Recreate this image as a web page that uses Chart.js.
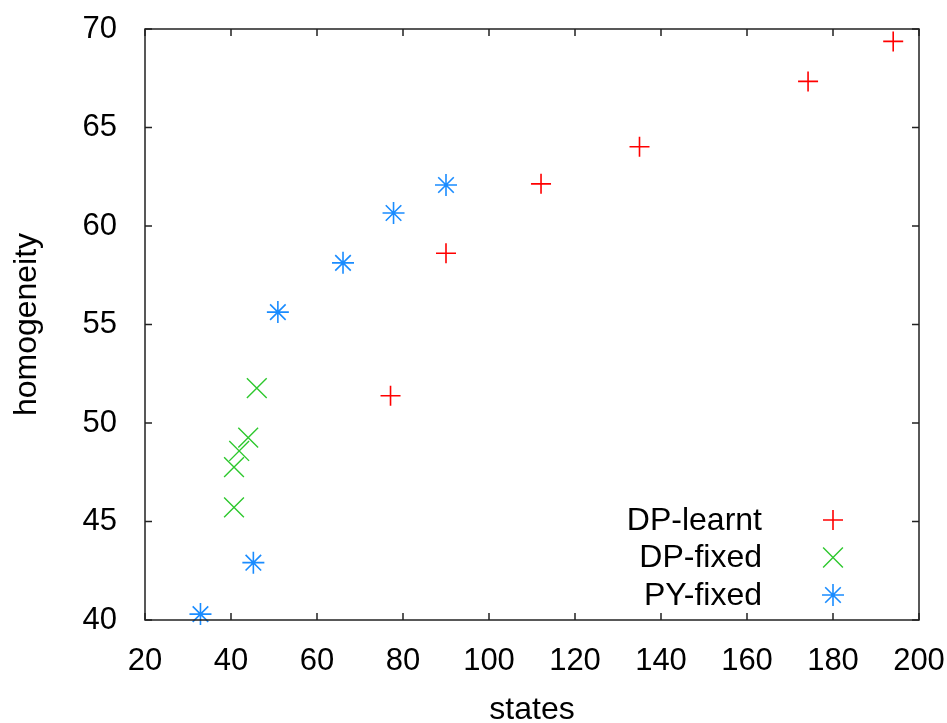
<!DOCTYPE html>
<html>
<head>
<meta charset="utf-8">
<script src="https://cdn.jsdelivr.net/npm/chart.js@4.4.1/dist/chart.umd.min.js"></script>
<style>
  html, body { margin: 0; padding: 0; background: #fff; }
  #wrap { width: 947px; height: 723px; }
</style>
</head>
<body>
<div id="wrap"><canvas id="chart" width="947" height="723"></canvas></div>
<script>
// ---- data ----
const dpLearntX = [77.1, 90.0, 112.1, 135.0, 174.2, 194.0];
const dpLearntY = [51.38, 58.62, 62.14, 64.02, 67.34, 69.37];
const dpFixedX = [40.7, 40.7, 41.9, 44.0, 46.0];
const dpFixedY = [45.72, 47.76, 48.58, 49.26, 51.77];
const pyFixedX = [32.9, 45.2, 50.9, 66.05, 77.8, 90.0];
const pyFixedY = [40.3, 42.91, 55.63, 58.13, 60.66, 62.08];

const xTicks = [20, 40, 60, 80, 100, 120, 140, 160, 180, 200];
const yTicks = [40, 45, 50, 55, 60, 65, 70];

const seriesNames = ["DP-learnt", "DP-fixed", "PY-fixed"];
const seriesColors = ["#ff0000", "#2ec82e", "#1a8cff"];

const FONT = "'Liberation Sans', Arial, sans-serif";

const toPoints = (xs, ys) => xs.map((x, i) => ({ x: x, y: ys[i] }));

// gnuplot-style frame with inward ticks on all four sides
const framePlugin = {
  id: "frame",
  afterDatasetsDraw(chart) {
    const { ctx, chartArea: a, scales } = chart;
    ctx.save();
    ctx.strokeStyle = "#222";
    ctx.lineWidth = 1.5;
    ctx.strokeRect(a.left, a.top, a.right - a.left, a.bottom - a.top);
    const len = 7;
    ctx.beginPath();
    xTicks.forEach((v) => {
      const px = scales.x.getPixelForValue(v);
      ctx.moveTo(px, a.bottom);
      ctx.lineTo(px, a.bottom - len);
      ctx.moveTo(px, a.top);
      ctx.lineTo(px, a.top + len);
    });
    yTicks.forEach((v) => {
      const py = scales.y.getPixelForValue(v);
      ctx.moveTo(a.left, py);
      ctx.lineTo(a.left + len, py);
      ctx.moveTo(a.right, py);
      ctx.lineTo(a.right - len, py);
    });
    ctx.stroke();
    ctx.restore();
  },
};

// key in the lower right, text right-aligned left of the marker
const keyPlugin = {
  id: "key",
  afterDraw(chart) {
    const { ctx, chartArea: a } = chart;
    ctx.save();
    ctx.font = "32px " + FONT;
    ctx.textAlign = "right";
    ctx.textBaseline = "middle";
    chart.data.datasets.forEach((ds, i) => {
      const y = a.bottom - 100 + i * 37.5;
      ctx.fillStyle = "#000";
      ctx.fillText(ds.label, a.right - 157, y + 1);
      // drawPoint strokes with whatever the context holds
      ctx.strokeStyle = ds.borderColor;
      ctx.fillStyle = ds.borderColor;
      ctx.lineWidth = ds.borderWidth;
      Chart.helpers.drawPoint(
        ctx,
        { pointStyle: ds.pointStyle, radius: ds.pointRadius, borderWidth: ds.borderWidth, rotation: 0 },
        a.right - 86,
        y
      );
    });
    ctx.restore();
  },
};

const datasets = [
  {
    label: seriesNames[0],
    data: toPoints(dpLearntX, dpLearntY),
    pointStyle: "cross",
    pointRadius: 10,
    borderColor: seriesColors[0],
    backgroundColor: seriesColors[0],
    borderWidth: 1.6,
  },
  {
    label: seriesNames[1],
    data: toPoints(dpFixedX, dpFixedY),
    pointStyle: "crossRot",
    pointRadius: 14,
    borderColor: seriesColors[1],
    backgroundColor: seriesColors[1],
    borderWidth: 1.4,
  },
  {
    label: seriesNames[2],
    data: toPoints(pyFixedX, pyFixedY),
    pointStyle: "star",
    pointRadius: 11,
    borderColor: seriesColors[2],
    backgroundColor: seriesColors[2],
    borderWidth: 1.6,
  },
];
datasets.forEach((d) => {
  d.clip = false;
  d.pointHoverRadius = d.pointRadius;
  d.showLine = false;
});

const tickFont = { family: FONT, size: 31 };
const titleFont = { family: FONT, size: 32 };

new Chart(document.getElementById("chart"), {
  type: "scatter",
  data: { datasets: datasets },
  options: {
    responsive: false,
    animation: false,
    events: [],
    layout: { padding: { left: 8, right: 28, top: 29, bottom: 0 } },
    plugins: {
      legend: { display: false },
      tooltip: { enabled: false },
    },
    scales: {
      x: {
        type: "linear",
        min: 20,
        max: 200,
        afterBuildTicks: (s) => { s.ticks = xTicks.map((v) => ({ value: v })); },
        afterFit: (s) => {
          s.height = 103;
          // labels may spill past the frame, like the original
          s.paddingLeft = 0;
          s.paddingRight = 0;
        },
        grid: { display: false, drawTicks: false },
        border: { display: false },
        ticks: { font: tickFont, color: "#000", padding: 23, maxRotation: 0 },
        title: { display: true, text: "states", font: titleFont, color: "#000", padding: { top: 0, bottom: -6 } },
      },
      y: {
        type: "linear",
        min: 40,
        max: 70,
        afterBuildTicks: (s) => { s.ticks = yTicks.map((v) => ({ value: v })); },
        afterFit: (s) => {
          s.width = 137;
          s.paddingTop = 0;
          s.paddingBottom = 0;
        },
        grid: { display: false, drawTicks: false },
        border: { display: false },
        ticks: { font: tickFont, color: "#000", padding: 28 },
        title: { display: true, text: "homogeneity", font: titleFont, color: "#000", padding: 0 },
      },
    },
  },
  plugins: [framePlugin, keyPlugin],
});
</script>
</body>
</html>
